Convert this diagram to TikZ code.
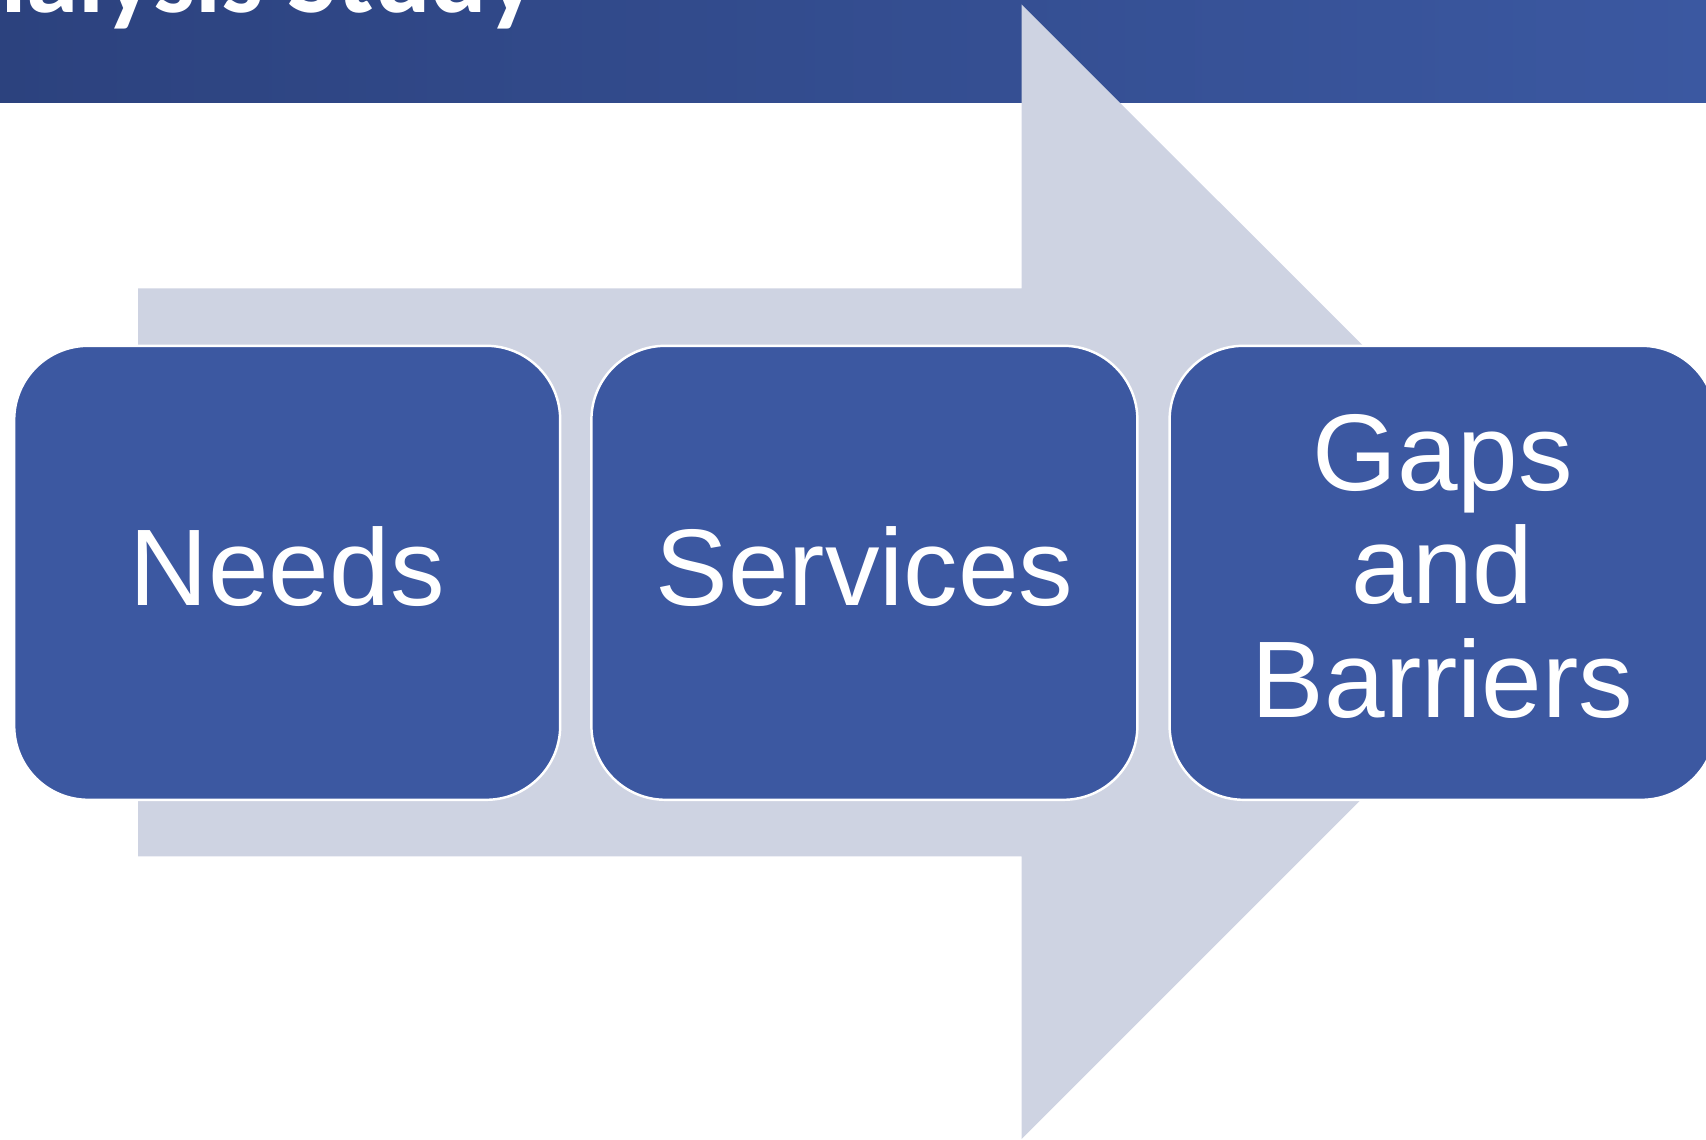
\documentclass[tikz,border=0pt]{standalone}
\usepackage{fontspec}
\usepackage{xcolor}
\usepackage{tikz}
\usetikzlibrary{calc}
\newfontfamily\boxfont{Liberation Sans}
\newfontfamily\titlefont{Carlito}
\definecolor{bannerleft}{HTML}{2C427E}
\definecolor{bannerright}{HTML}{3B58A1}
\definecolor{arrowgrey}{HTML}{CED3E2}
\definecolor{boxblue}{HTML}{3C58A1}

\begin{document}
\begin{tikzpicture}

\useasboundingbox (0mm, 0mm) rectangle (170.6mm, 113.9mm) ;
\clip (0mm, 0mm) rectangle (170.6mm, 113.9mm) ;

\tikzset{%
stepbox/.style={draw=white, line width=0.7pt, fill=boxblue, rounded corners=7.4mm, minimum width=54.6mm, minimum height=45.4mm, inner sep=0, text=white, align=center, font=\boxfont\fontsize{31}{32.2}\selectfont, text depth=1.4mm}%
}

% arguments: name, x, y, text
\newcommand{\setstepbox}[4]{%
\path (#2, #3) node [stepbox] (#1) {#4} ;
}

% title banner (cut off at the top)

\shade [left color=bannerleft, right color=bannerright] (0mm, 103.7mm) rectangle (170.6mm, 113.9mm) ;
\path (53.7mm, 112.6mm) node [anchor=base east, inner sep=0, outer sep=0, white, font=\titlefont\bfseries\fontsize{30}{32}\selectfont] (title) {Analysis Study} ;

% big arrow behind the boxes

\path (13.82mm, 85.07mm) node [shape=coordinate] (shaftNW) {} ;
\path (13.82mm, 28.27mm) node [shape=coordinate] (shaftSW) {} ;
\path (102.16mm, 113.46mm) node [shape=coordinate] (headN) {} ;
\path (102.16mm, 0mm) node [shape=coordinate] (headS) {} ;
\path (158.9mm, 56.73mm) node [shape=coordinate] (tip) {} ;

\fill [arrowgrey] (shaftNW) -- (headN |- shaftNW) -- (headN) -- (tip) -- (headS) -- (headS |- shaftSW) -- (shaftSW) -- cycle ;

% draw boxes

\setstepbox{needs}{28.72mm}{56.62mm}{Needs}
\setstepbox{services}{86.44mm}{56.62mm}{Services}
\setstepbox{gaps}{144.26mm}{56.62mm}{Gaps\\and\\Barriers}

\end{tikzpicture}
\end{document}
